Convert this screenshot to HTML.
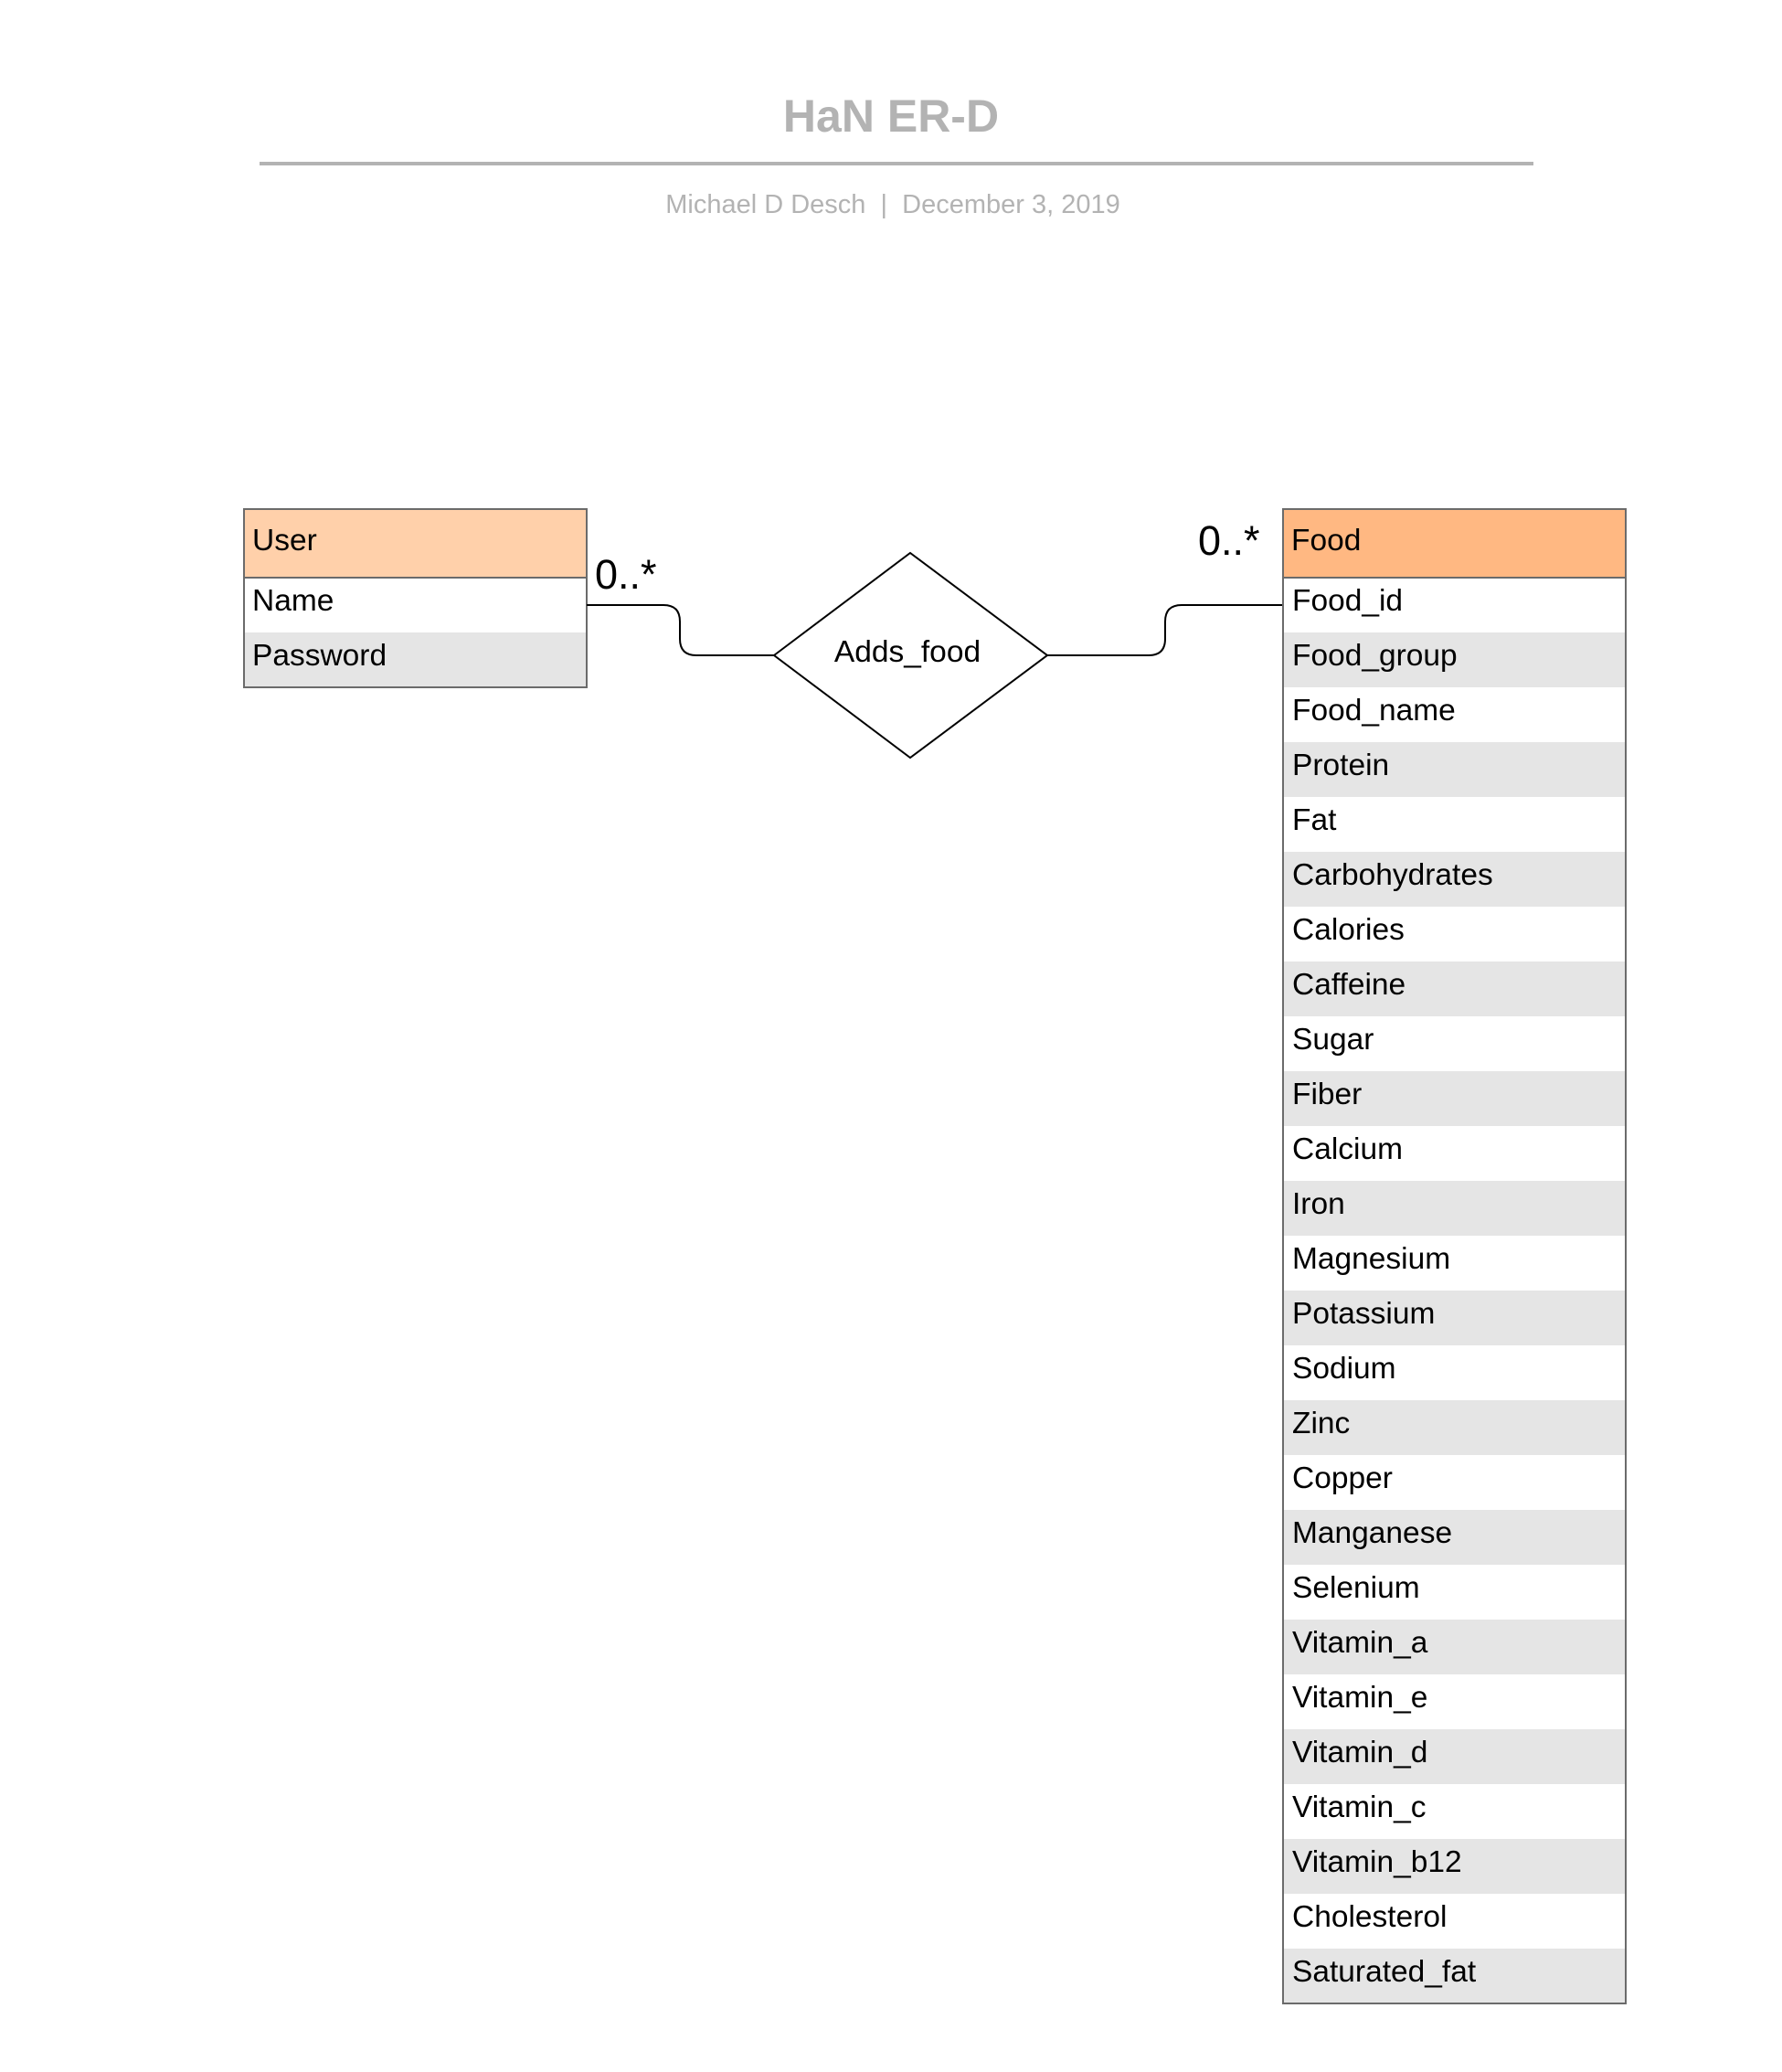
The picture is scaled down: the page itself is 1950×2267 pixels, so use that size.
<!DOCTYPE html>
<html><head><meta charset="utf-8"><style>
html,body{margin:0;padding:0;background:#fff;}
svg{display:block;}
text{font-family:"Liberation Sans",Arial,sans-serif;}
</style></head><body>
<svg width="1950" height="2267" viewBox="0 0 1950 2267" xmlns="http://www.w3.org/2000/svg">
<rect width="1950" height="2267" fill="#fff"/>
<text x="975" y="144" font-size="50" font-weight="bold" fill="#b3b3b3" text-anchor="middle">HaN ER-D</text>
<rect x="284" y="177" width="1394" height="4" fill="#b3b3b3"/>
<text x="977" y="233" font-size="29" fill="#b3b3b3" text-anchor="middle">Michael D Desch&#160;&#160;|&#160;&#160;December 3, 2019</text>

<!-- User -->
<rect x="267" y="557" width="375" height="75" fill="#ffd0aa"/>
<rect x="267" y="632" width="375" height="60" fill="#fff"/>
<rect x="267" y="692" width="375" height="60" fill="#e5e5e5"/>
<rect x="267" y="557" width="375" height="195" fill="none" stroke="#6b6b6b" stroke-width="2"/>
<line x1="267" y1="632" x2="642" y2="632" stroke="#6b6b6b" stroke-width="2"/>
<text x="276" y="602" font-size="33.5">User</text>
<text x="276" y="668" font-size="33.5">Name</text>
<text x="276" y="728" font-size="33.5">Password</text>

<!-- Diamond -->
<polygon points="847,717 996,605 1146,717 996,829" fill="#fff" stroke="#000" stroke-width="2"/>
<text x="993" y="724" font-size="33.5" text-anchor="middle">Adds_food</text>

<!-- connectors -->
<path d="M642,662 H726 Q744,662 744,680 V699 Q744,717 762,717 H847" fill="none" stroke="#000" stroke-width="2"/>
<path d="M1146,717 H1257 Q1275,717 1275,699 V680 Q1275,662 1293,662 H1404" fill="none" stroke="#000" stroke-width="2"/>
<text x="651" y="644" font-size="45">0..*</text>
<text x="1311" y="607" font-size="45">0..*</text>

<!-- Food -->
<rect x="1404" y="557" width="375" height="75" fill="#ffb882"/>
<text x="1413" y="602" font-size="33.5">Food</text>
<g font-size="33.5">
<rect x="1404" y="632" width="375" height="60" fill="#fff"/><text x="1414" y="668">Food_id</text>
<rect x="1404" y="692" width="375" height="60" fill="#e5e5e5"/><text x="1414" y="728">Food_group</text>
<rect x="1404" y="752" width="375" height="60" fill="#fff"/><text x="1414" y="788">Food_name</text>
<rect x="1404" y="812" width="375" height="60" fill="#e5e5e5"/><text x="1414" y="848">Protein</text>
<rect x="1404" y="872" width="375" height="60" fill="#fff"/><text x="1414" y="908">Fat</text>
<rect x="1404" y="932" width="375" height="60" fill="#e5e5e5"/><text x="1414" y="968">Carbohydrates</text>
<rect x="1404" y="992" width="375" height="60" fill="#fff"/><text x="1414" y="1028">Calories</text>
<rect x="1404" y="1052" width="375" height="60" fill="#e5e5e5"/><text x="1414" y="1088">Caffeine</text>
<rect x="1404" y="1112" width="375" height="60" fill="#fff"/><text x="1414" y="1148">Sugar</text>
<rect x="1404" y="1172" width="375" height="60" fill="#e5e5e5"/><text x="1414" y="1208">Fiber</text>
<rect x="1404" y="1232" width="375" height="60" fill="#fff"/><text x="1414" y="1268">Calcium</text>
<rect x="1404" y="1292" width="375" height="60" fill="#e5e5e5"/><text x="1414" y="1328">Iron</text>
<rect x="1404" y="1352" width="375" height="60" fill="#fff"/><text x="1414" y="1388">Magnesium</text>
<rect x="1404" y="1412" width="375" height="60" fill="#e5e5e5"/><text x="1414" y="1448">Potassium</text>
<rect x="1404" y="1472" width="375" height="60" fill="#fff"/><text x="1414" y="1508">Sodium</text>
<rect x="1404" y="1532" width="375" height="60" fill="#e5e5e5"/><text x="1414" y="1568">Zinc</text>
<rect x="1404" y="1592" width="375" height="60" fill="#fff"/><text x="1414" y="1628">Copper</text>
<rect x="1404" y="1652" width="375" height="60" fill="#e5e5e5"/><text x="1414" y="1688">Manganese</text>
<rect x="1404" y="1712" width="375" height="60" fill="#fff"/><text x="1414" y="1748">Selenium</text>
<rect x="1404" y="1772" width="375" height="60" fill="#e5e5e5"/><text x="1414" y="1808">Vitamin_a</text>
<rect x="1404" y="1832" width="375" height="60" fill="#fff"/><text x="1414" y="1868">Vitamin_e</text>
<rect x="1404" y="1892" width="375" height="60" fill="#e5e5e5"/><text x="1414" y="1928">Vitamin_d</text>
<rect x="1404" y="1952" width="375" height="60" fill="#fff"/><text x="1414" y="1988">Vitamin_c</text>
<rect x="1404" y="2012" width="375" height="60" fill="#e5e5e5"/><text x="1414" y="2048">Vitamin_b12</text>
<rect x="1404" y="2072" width="375" height="60" fill="#fff"/><text x="1414" y="2108">Cholesterol</text>
<rect x="1404" y="2132" width="375" height="60" fill="#e5e5e5"/><text x="1414" y="2168">Saturated_fat</text>
</g>
<rect x="1404" y="557" width="375" height="1635" fill="none" stroke="#6b6b6b" stroke-width="2"/>
<line x1="1404" y1="632" x2="1779" y2="632" stroke="#6b6b6b" stroke-width="2"/>
</svg>
</body></html>
